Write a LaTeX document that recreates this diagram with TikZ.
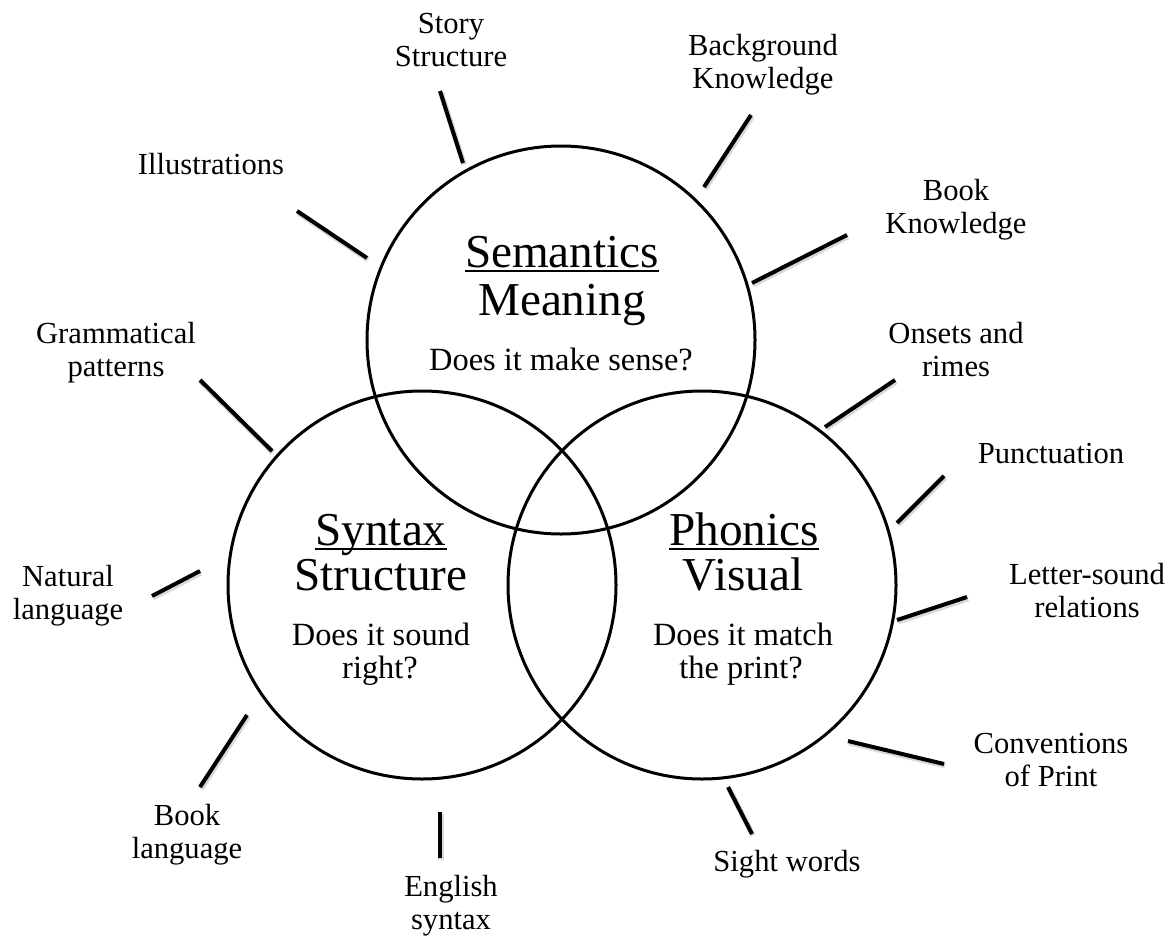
\documentclass[tikz,border=0pt]{standalone}
\usepackage{fontspec}
\setmainfont{Liberation Serif}

\newcommand{\headfont}{\fontsize{23.6}{24}\selectfont}
\newcommand{\askfont}{\fontsize{16.2}{16.5}\selectfont}
\newcommand{\cuefont}{\fontsize{15.3}{16.5}\selectfont}

\tikzset{
  cueing/.style={circle, draw, line width=1.5pt, minimum size=194pt, inner sep=0pt},
  headline/.style={font=\headfont, inner sep=0pt, anchor=base},
  askline/.style={font=\askfont, inner sep=0pt, anchor=base},
  cue/.style={font=\cuefont, align=center, inner sep=0pt},
  spoke/.style={line width=2pt,
    preaction={draw=black!15, line width=2.8pt, transform canvas={shift={(0.5pt,-0.8pt)}}}},
  underbar/.style={line width=1.2pt},
}

\begin{document}
\begin{tikzpicture}[x=0.5pt, y=-0.5pt]
\useasboundingbox (0,0) rectangle (1176,937);
\fill[white] (0,0) rectangle (1176,937);

%% the three circles
\node[cueing] (sem) at (561,340) {};
\node[cueing] (syn) at (422,585) {};
\node[cueing] (pho) at (702,585) {};

%% semantics
\node[headline] (semhead) at (562,267) {Semantics};
\node[headline] (semsub) at (562,315) {Meaning};
\node[askline] (semask) at (561,370) {Does it make sense?};
\draw[underbar] ([yshift=-2pt]semhead.base west) -- ([yshift=-2pt]semhead.base east);

%% syntax
\node[headline] (synhead) at (381,545) {Syntax};
\node[headline] (synsub) at (381,590) {Structure};
\node[askline] (synask) at (381,645) {Does it sound};
\node[askline] (synask2) at (380,678) {right?};
\draw[underbar] ([yshift=-2pt]synhead.base west) -- ([yshift=-2pt]synhead.base east);

%% phonics
\node[headline] (phohead) at (744,545) {Phonics};
\node[headline] (phosub) at (743,590) {Visual};
\node[askline] (phoask) at (743,645) {Does it match};
\node[askline] (phoask2) at (741,678) {the print?};
\draw[underbar] ([yshift=-2pt]phohead.base west) -- ([yshift=-2pt]phohead.base east);

%% cues round the outside
\node[cue] (story) at (451,43) {\strut Story\\\strut Structure};
\node[cue] (illus) at (211,168) {\strut Illustrations};
\node[cue] (backg) at (763,65) {\strut Background\\\strut Knowledge};
\node[cue] (bookk) at (956,210) {\strut Book\\\strut Knowledge};
\node[cue] (gramm) at (116,353) {\strut Grammatical\\\strut patterns};
\node[cue] (onset) at (956,353) {\strut Onsets and\\\strut rimes};
\node[cue] (punct) at (1051,457) {\strut Punctuation};
\node[cue] (natur) at (68,596) {\strut Natural\\\strut language};
\node[cue] (letter) at (1087,594) {\strut Letter-sound\\\strut relations};
\node[cue] (bookl) at (187,835) {\strut Book\\\strut language};
\node[cue] (engl) at (451,906) {\strut English\\\strut syntax};
\node[cue] (sight) at (787,865) {\strut Sight words};
\node[cue] (conv) at (1051,763) {\strut Conventions\\\strut of Print};

%% ticks
\foreach \n/\ax/\ay/\bx/\by in {story/463/163/440/91, illus/367/258/297/211,
    backg/704/187/751/115, bookk/752/283/847/235, gramm/272/451/200/380,
    onset/825/427/895/380, punct/897/523/944/476, natur/200/571/152/596,
    letter/897/620/967/597, bookl/247/715/200/787, engl/440/812/440/858,
    sight/728/787/752/834, conv/848/741/944/764} {
  \coordinate (\n-in) at (\ax,\ay);
  \coordinate (\n-out) at (\bx,\by);
  \draw[spoke] (\n-in) -- (\n-out);
}
\end{tikzpicture}
\end{document}
